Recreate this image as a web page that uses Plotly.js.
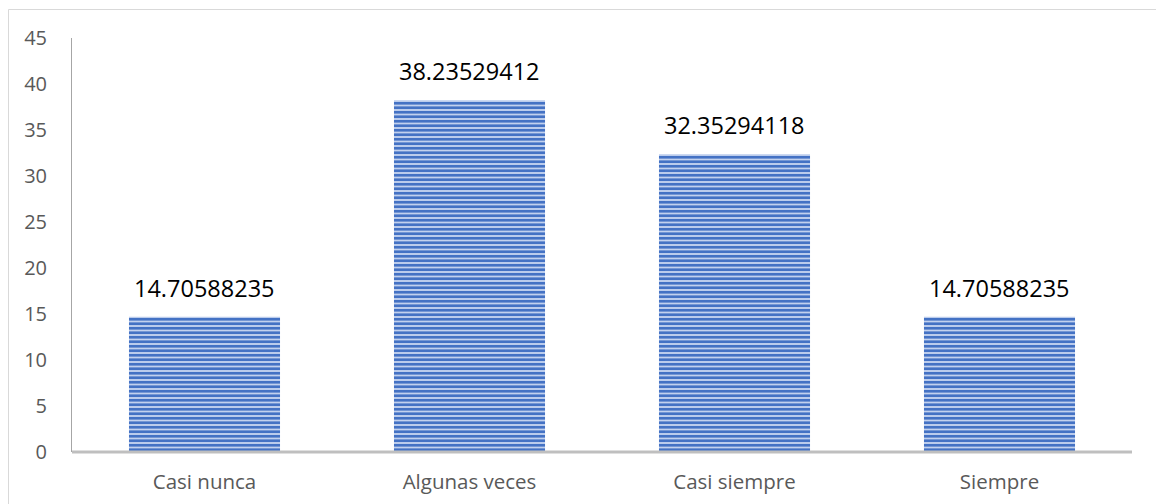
<!DOCTYPE html>
<html>
<head>
<meta charset="utf-8">
<script src="https://cdn.plot.ly/plotly-3.0.1.min.js"></script>
<style>html,body{margin:0;padding:0;background:#fff;}#chart{width:1156px;height:504px;}</style>
</head>
<body>
<div id="chart"></div>
<script>
const categories = ["Casi nunca", "Algunas veces", "Casi siempre", "Siempre"];
const values = [14.70588235, 38.23529412, 32.35294118, 14.70588235];
const valueLabels = ["14.70588235", "38.23529412", "32.35294118", "14.70588235"];
const yTicks = [0, 5, 10, 15, 20, 25, 30, 35, 40, 45];

const FONT = "'Open Sans', Lato, sans-serif";

const trace = {
  type: "bar",
  x: categories,
  y: values,
  width: 0.57,
  marker: {
    color: "#c2d1ee",
    line: {width: 0},
    pattern: {shape: "-", fgcolor: "#4472C4", bgcolor: "#c2d1ee", fgopacity: 1, size: 4.5, solidity: 0.6, fillmode: "replace"}
  },
  hoverinfo: "skip"
};

const annotations = categories.map((c, i) => ({
  x: c, y: values[i], xref: "x", yref: "y",
  text: valueLabels[i], showarrow: false,
  yanchor: "bottom", yshift: 11,
  font: {family: FONT, size: 23.5, color: "#000000"}
}));

const layout = {
  width: 1156, height: 504,
  margin: {l: 72, r: 24, t: 38, b: 52},
  paper_bgcolor: "#ffffff", plot_bgcolor: "#ffffff",
  showlegend: false,
  bargap: 0.43,
  xaxis: {
    showgrid: false, zeroline: false,
    showline: false,
    ticks: "", ticklabelstandoff: 15,
    tickfont: {family: FONT, size: 20.5, color: "#595959"}
  },
  yaxis: {
    range: [0, 45], tickvals: yTicks, ticktext: yTicks.map(String),
    showgrid: false, zeroline: false,
    showline: true, linecolor: "#a6a6a6", linewidth: 1,
    ticks: "", ticklabelstandoff: 20,
    tickfont: {family: FONT, size: 20, color: "#595959"}
  },
  annotations: annotations,
  shapes: [
    {type: "line", xref: "paper", yref: "paper", x0: 0, x1: 1, y0: 0, y1: 0,
     line: {color: "#bfbfbf", width: 3}, layer: "above"},
    {type: "rect", xref: "paper", yref: "paper",
     x0: (8.5 - 72) / 1060, x1: 1.2, y0: -0.3, y1: 1 + (38 - 9.5) / 414,
     line: {color: "#d9d9d9", width: 1}, fillcolor: "rgba(0,0,0,0)", layer: "below"}
  ]
};

Plotly.newPlot("chart", [trace], layout, {staticPlot: true, displayModeBar: false});
</script>
</body>
</html>
